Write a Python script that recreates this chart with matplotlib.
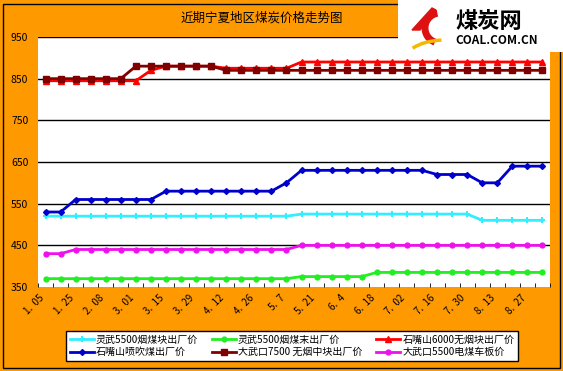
import matplotlib
matplotlib.use('Agg')
import matplotlib.pyplot as plt
from matplotlib.patches import Rectangle, Arc, Polygon

plt.rcParams['font.family'] = ['Noto Sans CJK SC', 'DejaVu Sans']

# ---- data ----
xlabels = ['1.  05', '1.  25', '2.  08', '3.  01', '3.  15', '3.  29', '4.  12', '4.  26',
           '5.  7', '5.  21', '6.  4', '6.  18', '7.  02', '7.  16', '7.  30', '8.  13', '8.  27']

lingwu_kuai = [520] * 17 + [525] * 12 + [510] * 5
lingwu_mo = [370] * 17 + [375] * 5 + [385] * 12
szs_wuyan = [845] * 7 + [870] + [880] * 4 + [875] * 5 + [890] * 17
szs_penchui = [530] * 2 + [560] * 6 + [580] * 8 + [600] + [630] * 9 + [620] * 3 + [600] * 2 + [640] * 3
dwk_7500 = [850] * 6 + [880] * 6 + [870] * 22
dwk_5500 = [430] * 2 + [440] * 15 + [450] * 17

names = ['灵武5500烟煤块出厂价', '灵武5500烟煤末出厂价', '石嘴山6000无烟块出厂价',
         '石嘴山喷吹煤出厂价', '大武口7500 无烟中块出厂价', '大武口5500电煤车板价']

orange = '#FF9900'
W, H = 563, 371
fig = plt.figure(figsize=(W / 100, H / 100), dpi=100, facecolor=orange)

ax = fig.add_axes([38 / W, 1 - 287 / H, 512 / W, 250 / H])
ax.set_facecolor('white')

n = len(lingwu_kuai)
x = list(range(n))

lines = {}
lines[0], = ax.plot(x, lingwu_kuai, color='#33EEFF', lw=2, marker='+', ms=5, mew=1.5)
lines[1], = ax.plot(x, lingwu_mo, color='#22EE22', lw=2, marker='o', ms=3.5)
lines[2], = ax.plot(x, szs_wuyan, color='#FF0000', lw=2, marker='^', ms=4)
lines[3], = ax.plot(x, szs_penchui, color='#0000CC', lw=2, marker='D', ms=3)
lines[4], = ax.plot(x, dwk_7500, color='#800000', lw=2, marker='s', ms=4)
lines[5], = ax.plot(x, dwk_5500, color='#EE11EE', lw=2, marker='o', ms=3.5)

ax.set_xlim(-0.5, n - 0.5)
ax.set_ylim(350, 950)
ax.set_yticks(range(350, 951, 100))
ax.tick_params(axis='y', length=0, pad=7, labelsize=7.5)
for v in range(450, 951, 100):
    ax.axhline(v, color='black', lw=1, zorder=0.5)

ax.set_xticks(range(0, n, 2))
ax.set_xticklabels(xlabels, rotation=45, ha='right', va='top', fontsize=7)
ax.set_xticks([i + 0.5 for i in range(-1, n)], minor=True)
ax.tick_params(axis='x', which='major', length=0, pad=4)
ax.tick_params(axis='x', which='minor', direction='in', length=3, color='black')
for s in ax.spines.values():
    s.set_visible(False)

fig.text(262 / W, 1 - 18 / H, '近期宁夏地区煤炭价格走势图', ha='center', va='center', fontsize=9)

# legend: Excel row order, matplotlib fills columns first
order = [0, 3, 1, 4, 2, 5]
leg = fig.legend([lines[i] for i in order], [names[i] for i in order], ncol=3,
                 loc='center', bbox_to_anchor=(292 / W, 1 - 346 / H), fontsize=7.2,
                 frameon=True, fancybox=False, edgecolor='black', framealpha=1,
                 handlelength=2.4, handletextpad=0.2, columnspacing=1.4,
                 labelspacing=0.25, borderpad=0.35)
leg.get_frame().set_linewidth(1)

# outer border (behind the logo box)
fig.patches.append(Rectangle((3 / W, 3 / H), 557 / W, 364 / H, transform=fig.transFigure,
                             fill=False, edgecolor='black', lw=1, zorder=-1))

# logo box
lg = fig.add_axes([398 / W, 1 - 52 / H, 165 / W, 52 / H])
lg.set_xlim(398, 563)
lg.set_ylim(52, 0)
lg.axis('off')
lg.add_patch(Rectangle((398, 0), 165, 52, color='white'))
lg.add_patch(Arc((440, 28), 30, 30, theta1=110, theta2=260, color='#DD1111', lw=5))
lg.add_patch(Polygon([[412, 30], [432, 8], [436, 10], [420, 30]], color='#DD1111'))
lg.add_patch(Arc((445, 60), 80, 40, theta1=200, theta2=260, color='#F5B800', lw=2.5))
lg.text(455, 21, '煤炭网', fontsize=16, fontweight='bold', va='center', ha='left')
lg.text(455, 40, 'COAL.COM.CN', fontsize=8.5, fontweight='bold', va='center', ha='left')

fig.savefig('out.png', dpi=100, facecolor=orange)
